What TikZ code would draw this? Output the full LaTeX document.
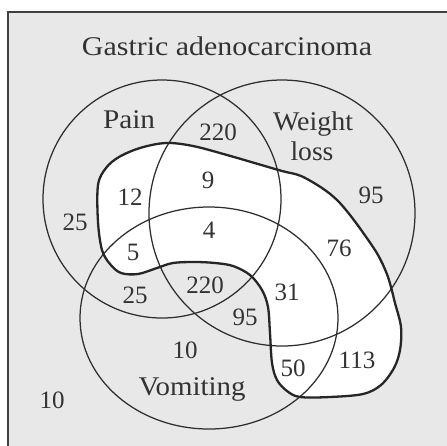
\documentclass[tikz,border=0pt]{standalone}
\usepackage{graphicx}
\usepackage{fontspec}
\setmainfont{Liberation Serif}
\newcommand{\wtext}[2]{\resizebox{#1}{\height}{#2}}
\begin{document}
\begin{tikzpicture}[x=1pt,y=-1pt,
  lbl/.style={font=\fontsize{27}{27}\selectfont, text=black!80, inner sep=0pt, anchor=base},
  num/.style={font=\fontsize{25}{25}\selectfont, text=black!80, inner sep=0pt},
  setline/.style={draw=black!82, line width=1.25pt},
  beanline/.style={draw=black!85, line width=2.3pt, line join=round}]
\useasboundingbox (0,0) rectangle (447,445);
\clip (0,0) rectangle (447,445);
\fill[white] (0,0) rectangle (447,445);
\filldraw[fill=black!9, draw=black!75, line width=1.3pt] (8,12) rectangle (470,470);
% fourth set (bean)
\def\beanpath{plot[smooth cycle, tension=0.55] coordinates {
 (98,185) (106,168) (119,157) (140,148) (166,143) (193,146) (227,155) (258,164)
 (282,171) (301,176) (322,188) (337,200) (350,215) (364,234) (378,255) (388,277)
 (395,303) (401,327) (400,350) (394,368) (381,385) (363,394) (330,397) (300,397)
 (287,391) (277,380) (272,363) (270,333) (268,307) (262,290) (250,275) (233,266)
 (215,263) (195,262) (173,263) (157,268) (138,274) (121,273) (110,264) (102,250)
 (98,222)}}
\fill[white] \beanpath;
% three sets
\draw[setline] (162,199) circle[radius=119pt];
\draw[setline] (282,213) circle[radius=133pt];
\draw[setline] (209,318) ellipse[x radius=129pt, y radius=111pt];
\draw[beanline] \beanpath;
% labels
\node[lbl] (title) at (227,55) {\wtext{290pt}{Gastric adenocarcinoma}};
\node[lbl] (pain) at (129,128) {\wtext{52pt}{Pain}};
\node[lbl] (weight) at (313,130) {\wtext{80pt}{Weight}};
\node[lbl] (loss) at (312,160) {\wtext{43pt}{loss}};
\node[lbl] (vomiting) at (192,395) {\wtext{107pt}{Vomiting}};
% counts
\node[num] (n220a) at (218,132) {220};
\node[num] (n95a) at (371,195) {95};
\node[num] (n25a) at (75,222) {25};
\node[num] (n12) at (130,197) {12};
\node[num] (n9) at (208,180) {9};
\node[num] (n4) at (209,230) {4};
\node[num] (n5) at (133,252) {5};
\node[num] (n76) at (339,248) {76};
\node[num] (n25b) at (135,295) {25};
\node[num] (n220b) at (205,285) {220};
\node[num] (n31) at (287,292) {31};
\node[num] (n95b) at (245,317) {95};
\node[num] (n10a) at (185,350) {10};
\node[num] (n50) at (293,368) {50};
\node[num] (n113) at (357,360) {113};
\node[num] (n10b) at (52,400) {10};
\end{tikzpicture}
\end{document}
